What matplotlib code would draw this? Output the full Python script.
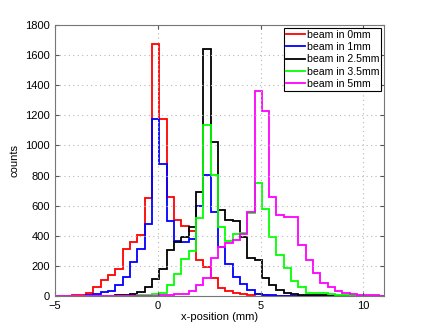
import numpy as np
import matplotlib
matplotlib.use('Agg')
import matplotlib.pyplot as plt

# common bin edges (mm), bin width ~0.356 mm
bin_width = 0.356
bin_start = -0.28
edges = bin_start + bin_width * np.arange(-14, 33)

labels = ['beam in 0mm', 'beam in 1mm', 'beam in 2.5mm', 'beam in 3.5mm', 'beam in 5mm']
colors = ['#ff0000', '#0000ff', '#000000', '#00ff00', '#ff00ff']

counts_0mm = [2, 2, 3, 5, 8, 22, 58, 106, 142, 181, 314, 359, 403, 653,
              1675, 1175, 660, 503, 467, 430, 240, 190, 117, 55, 33, 22, 11, 7, 15, 4,
              3, 2, 2, 1, 1, 1, 1, 1, 1, 1, 1, 1, 1, 1, 1, 1]
counts_1mm = [1, 1, 2, 2, 3, 5, 13, 27, 35, 71, 126, 224, 310, 476,
              1175, 874, 500, 365, 360, 380, 600, 803, 555, 328, 212, 124, 80, 40, 11, 6,
              4, 3, 2, 1, 1, 1, 1, 1, 1, 1, 1, 1, 1, 1, 1, 1]
counts_2_5mm = [1, 1, 1, 1, 1, 1, 1, 1, 3, 5, 8, 12, 27, 60,
                111, 177, 305, 357, 390, 456, 693, 1640, 1025, 574, 502, 495, 390, 250, 239, 117,
                73, 40, 22, 11, 8, 5, 8, 4, 3, 2, 2, 1, 1, 1, 1, 1]
counts_3_5mm = [2, 2, 2, 2, 2, 2, 2, 2, 2, 2, 3, 3, 4, 6,
                10, 20, 75, 144, 243, 299, 518, 1135, 805, 460, 365, 410, 418, 550, 748, 576,
                390, 274, 184, 100, 58, 22, 22, 20, 10, 6, 4, 3, 2, 2, 1, 1]
counts_5mm = [2, 2, 2, 2, 2, 2, 2, 2, 2, 2, 2, 2, 2, 2,
              2, 4, 5, 10, 13, 33, 73, 117, 250, 328, 355, 372, 410, 556, 1361, 1226,
              655, 538, 527, 522, 337, 240, 151, 88, 60, 33, 18, 11, 8, 5, 4, 3]

series = [counts_0mm, counts_1mm, counts_2_5mm, counts_3_5mm, counts_5mm]

plt.rcParams['font.family'] = ['Liberation Sans', 'DejaVu Sans']
plt.rcParams['font.size'] = 8

fig = plt.figure(figsize=(4.25, 3.33), dpi=100)
ax = fig.add_axes([0.1294, 0.1111, 0.7741, 0.8139])

for vals, col, lab in zip(series, colors, labels):
    ax.stairs(vals, edges, color=col, lw=1.3, baseline=None, label=lab)

ax.set_xlim(-5, 11)
ax.set_ylim(0, 1800)
ax.set_xticks([-5, 0, 5, 10])
ax.set_yticks(range(0, 1801, 200))
ax.grid(True, ls=(0, (1, 3)), color='#b8b8b8', lw=0.8)
ax.tick_params(direction='in', top=True, right=True, length=3, color='#555555', labelsize=8)
for sp in ax.spines.values():
    sp.set_color('#777777')
    sp.set_linewidth(0.8)

ax.set_xlabel('x-position (mm)', fontsize=8, labelpad=1)
ax.set_ylabel('counts', fontsize=8, labelpad=4)

leg = ax.legend(loc='upper right', fontsize=7.6, fancybox=False, framealpha=1,
                edgecolor='black', handlelength=1.8, handletextpad=0.2,
                labelspacing=0.22, borderpad=0.2, borderaxespad=0.25)
leg.get_frame().set_linewidth(0.8)

fig.savefig('out.png', dpi=100)
